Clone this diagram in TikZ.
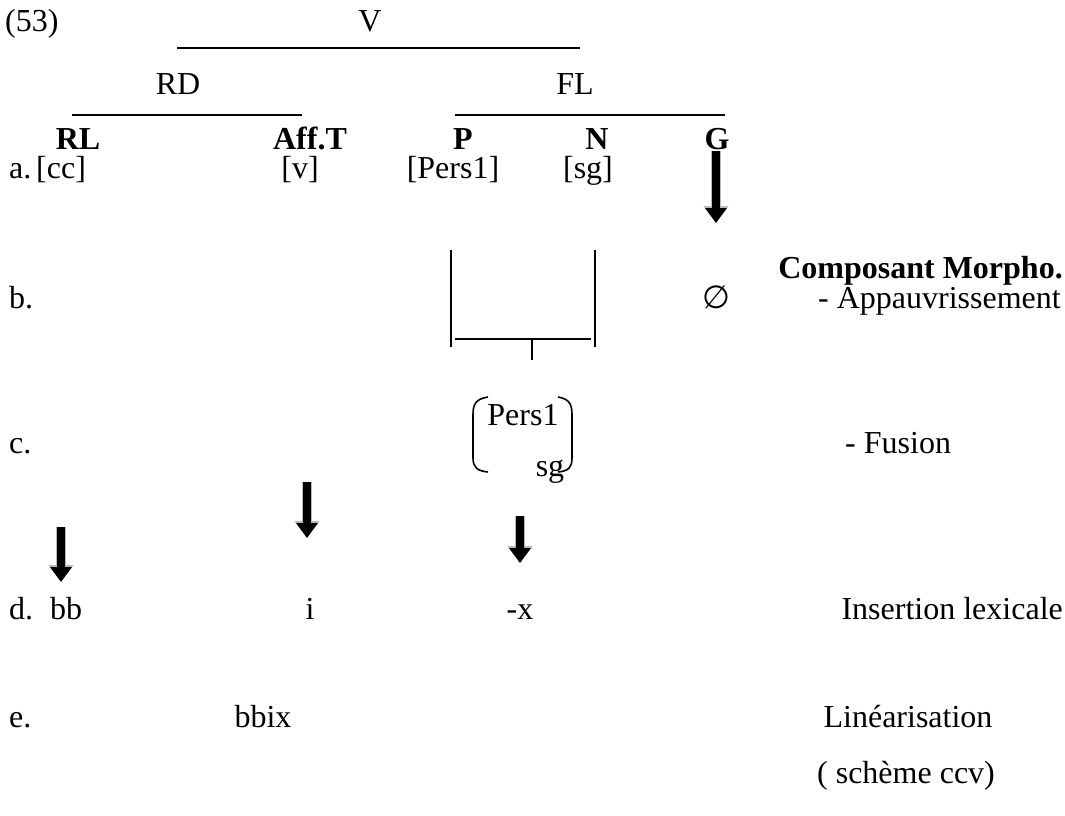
\documentclass[tikz,border=0pt]{standalone}
\usepackage{fontspec}
\setmainfont{Liberation Serif}
\newfontfamily\symfont{DejaVu Sans}
\usetikzlibrary{arrows.meta}
\tikzset{
  txt/.style={anchor=base, inner sep=0pt, font=\fontsize{32}{38}\selectfont},
  txtl/.style={txt, anchor=base west},
  txtr/.style={txt, anchor=base east},
  bold/.style={txt, font=\fontsize{32}{38}\selectfont\bfseries},
  bar/.style={line width=2pt},
  thin/.style={line width=1.6pt},
  bigarrow/.style={line width=8pt, -{Triangle[width=21pt,length=15pt]},
    preaction={draw=gray!55, line width=10pt, -{Triangle[width=24pt,length=17pt]}}}
}
\begin{document}
\begin{tikzpicture}[x=1pt,y=-1pt]
\useasboundingbox (0,0) rectangle (1065,816);
% tree
\node[txtl] (n53) at (5,32) {(53)};
\node[txt] (V) at (370,32) {V};
\draw[bar] (177,48) -- (580,48);
\node[txt] (RD) at (178,94) {RD};
\node[txt] (FL) at (575,94) {FL};
\draw[bar] (72,115) -- (302,115);
\draw[bar] (455,115) -- (725,115);
\node[bold] (RL) at (78,149) {RL};
\node[bold] (AffT) at (310,149) {Aff.T};
\node[bold] (P) at (463,149) {P};
\node[bold] (N) at (597,149) {N};
\node[bold] (G) at (717,149) {G};
% row a
\node[txtl] (la) at (9,178) {a.};
\node[txtl] (cc) at (36,178) {[cc]};
\node[txt] (v) at (300,178) {[v]};
\node[txt] (pers) at (453,178) {[Pers1]};
\node[txt] (sg) at (588,178) {[sg]};
\coordinate (ga1) at (716,151);
\coordinate (ga2) at (716,223);
\draw[bigarrow] (ga1) -- (ga2);
% composant
\node[bold, anchor=base east] (comp) at (1063,278) {Composant Morpho.};
% row b
\node[txtl] (lb) at (9,308) {b.};
\node[txt, font=\fontsize{32}{38}\symfont] (empty) at (716,308) {∅};
\node[txtr] (app) at (1061,308) {- Appauvrissement};
\draw[thin] (451,250) -- (451,347);
\draw[thin] (595,250) -- (595,347);
\draw[thin] (455,339) -- (591,339);
\draw[thin] (532,339) -- (532,360);
% row c
\node[txtl] (lc) at (9,453) {c.};
\node[txt] (pers1) at (523,425) {Pers1};
\node[txt] (sg2) at (550,476) {sg};
\draw[thin] (488,397) .. controls (475,399) and (473,405) .. (473,415) -- (473,458) .. controls (473,467) and (477,471) .. (488,472);
\draw[thin] (558,397) .. controls (570,399) and (572,405) .. (572,415) -- (572,458) .. controls (572,467) and (569,471) .. (558,472);
\node[txtl] (fus) at (845,453) {- Fusion};
% arrows
\coordinate (a1) at (61,527);
\coordinate (a1e) at (61,582);
\coordinate (a2) at (307,482);
\coordinate (a2e) at (307,538);
\coordinate (a3) at (520,516);
\coordinate (a3e) at (520,563);
\draw[bigarrow] (a1) -- (a1e);
\draw[bigarrow] (a2) -- (a2e);
\draw[bigarrow] (a3) -- (a3e);
% row d
\node[txtl] (ld) at (9,619) {d.};
\node[txtl] (bb) at (50,619) {bb};
\node[txt] (i) at (310,619) {i};
\node[txt] (x) at (520,619) {-x};
\node[txtr] (ins) at (1063,619) {Insertion lexicale};
% row e
\node[txtl] (le) at (9,727) {e.};
\node[txt] (bbix) at (263,727) {bbix};
\node[txt] (lin) at (908,727) {Linéarisation};
\node[txt] (sch) at (906,783) {( schème ccv)};
\end{tikzpicture}
\end{document}
